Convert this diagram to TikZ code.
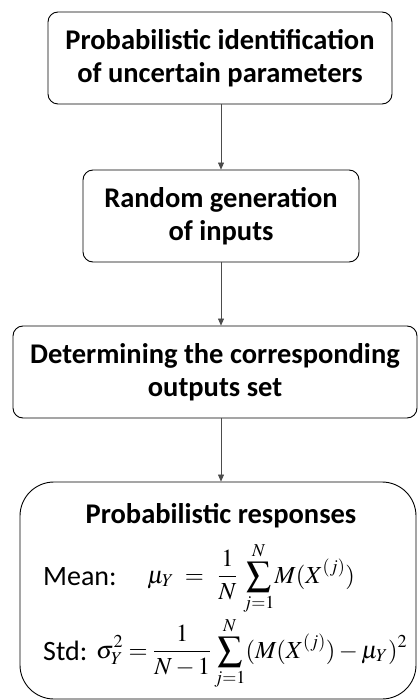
\documentclass[tikz,border=0pt]{standalone}
\usepackage{mathptmx}
\usepackage{fontspec}
\setmainfont{Carlito}
\usetikzlibrary{arrows.meta}
\tikzset{
  box/.style={draw, line width=0.9pt, rounded corners=10pt, align=center, font=\bfseries\fontsize{28.5}{33}\selectfont, inner sep=0pt},
  conn/.style={draw=black!70, line width=0.6pt, -{Triangle[length=7pt,width=6pt]}},
  lbl/.style={font=\fontsize{28}{30}\selectfont, anchor=base west, inner sep=0pt},
  eq/.style={font=\fontsize{24.5}{28}\selectfont, anchor=base west, inner sep=0pt}
}
\begin{document}
\begin{tikzpicture}[x=1pt,y=-1pt]
\useasboundingbox (0,0) rectangle (418,700);
\node[box, minimum width=344pt, minimum height=92pt] (b1) at (220,58) {Probabilistic identification\\of uncertain parameters};
\node[box, minimum width=276pt, minimum height=92pt] (b2) at (221,216) {Random generation\\of inputs};
\node[box, minimum width=404pt, minimum height=92pt] (b3) at (215,372) {Determining the corresponding\\outputs set};
\node[draw, line width=0.9pt, rounded corners=34pt, minimum width=396pt, minimum height=217pt, inner sep=0pt] (b4) at (218,590.5) {};
\node[font=\bfseries\fontsize{28.5}{33}\selectfont, anchor=base, inner sep=0pt] (t4) at (221,523) {Probabilistic responses};
\node[lbl] (mean) at (43,585) {Mean:};
\node[eq] (meanf) at (147,583) {$\displaystyle \mu_Y\;=\;\,\frac{1}{N}\,\sum_{j=1}^{N}\!M(X^{(j)})$};
\node[lbl] (std) at (43,660) {Std:};
\node[eq] (stdf) at (96,658) {$\displaystyle \sigma_Y^2=\frac{1}{N-1}\sum_{j=1}^{N}(M(X^{(j)})-\mu_Y)^2$};
\draw[conn] (b1.south -| 221,0) -- (b2.north -| 221,0);
\draw[conn] (b2.south) -- (b3.north -| b2.south);
\draw[conn] (b3.south -| b2.south) -- (b4.north -| b2.south);
\end{tikzpicture}
\end{document}
